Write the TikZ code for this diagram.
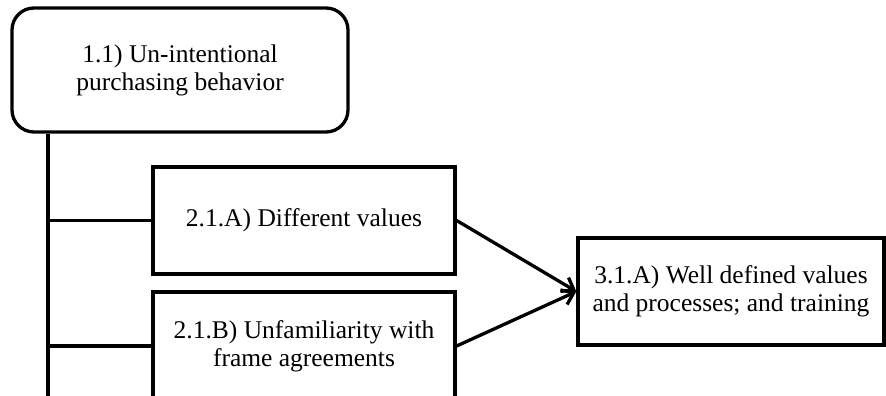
\documentclass[tikz,border=0pt]{standalone}
\usepackage{fontspec}
\setmainfont{Liberation Serif}
\usetikzlibrary{arrows.meta}

\begin{document}
\begin{tikzpicture}[x=1pt,y=-1pt, line width=3.3pt,
  box/.style={draw, rectangle, align=center, inner sep=0pt, font=\fontsize{25.5}{28}\selectfont},
  link/.style={-{Straight Barb[length=11pt,width=16pt,line width=3.3pt]}}]
\useasboundingbox (0,0) rectangle (886,396);
\clip (0,0) rectangle (886,396);
\node[box, rounded corners=22pt, minimum width=336pt, minimum height=124pt] (top) at (180,70){1.1) Un-intentional\\purchasing behavior};
\node[box, minimum width=302pt, minimum height=107pt] (boxA) at (304,220.5){2.1.A) Different values};
\node[box, minimum width=302pt, minimum height=108pt] (boxB) at (304,346){2.1.B) Unfamiliarity with\\frame agreements};
\node[box, minimum width=306pt, minimum height=107pt] (boxC) at (731,291.5){3.1.A) Well defined values\\and processes; and training};
\coordinate (trunkend) at (48,400);
\draw[](top.south -| trunkend) -- (trunkend);
\draw[](boxA.west -| trunkend) -- (boxA.west);
\draw[](boxB.west -| trunkend) -- (boxB.west);
\draw[link](boxA.east) -- (boxC.west);
\draw[link](boxB.east) -- (boxC.west);

\end{tikzpicture}
\end{document}
